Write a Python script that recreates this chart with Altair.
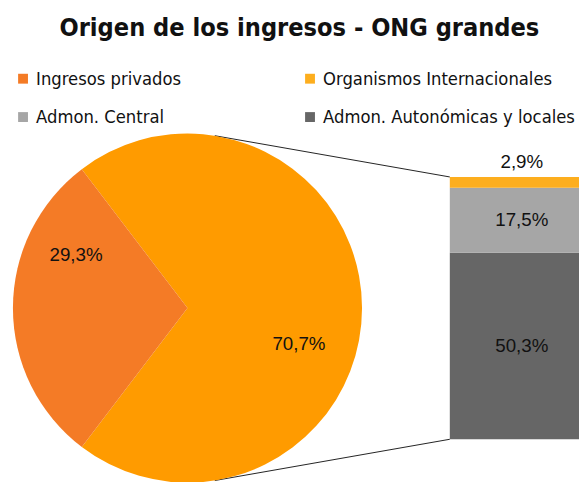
import math
import altair as alt
import pandas as pd

# ---------------- data ----------------
pie_names = ["Resto", "Ingresos privados"]
pie_values = [70.7, 29.3]
pie_order = [1, 2]

bar_names = ["Admon. Autonómicas y locales", "Admon. Central", "Organismos Internacionales"]
bar_values = [50.3, 17.5, 2.9]
bar_order = [1, 2, 3]

# legend is filled column by column
legend_names = ["Ingresos privados", "Admon. Central",
                "Organismos Internacionales", "Admon. Autonómicas y locales"]
legend_colors = ["#F47B26", "#A6A6A6", "#FDAE1E", "#666666"]
pie_colors = ["#FF9B00", "#F47B26"]

title_text = "Origen de los ingresos - ONG grandes"


def fmt(v):
    return f"{v:.1f}".replace(".", ",") + "%"


pie_df = pd.DataFrame({"name": pie_names, "value": pie_values, "ord": pie_order,
                       "label": [fmt(v) for v in pie_values]})
bar_df = pd.DataFrame({"name": bar_names, "value": bar_values, "ord": bar_order,
                       "label": [fmt(v) for v in bar_values]})

# ---------------- layout ----------------
W, H, PAD_TOP = 579, 424, 50
CX, CY, R = 182, 251, 177
BAR_X, BAR_X2 = 448, 600
BAR_BOTTOM, BAR_TOP = 384, 118
BAR_LABEL_X = 521

LABEL_FONT = "Liberation Sans"
LEG_FONT = "DejaVu Sans Condensed, Liberation Sans Narrow, Liberation Sans"

# start angle so that the "Ingresos privados" slice is centred on the left
small = pie_values[1] / sum(pie_values)
start = 1.5 * math.pi + small * math.pi
theta_scale = alt.Scale(range=[start, start + 2 * math.pi])

pie_base = alt.Chart(pie_df).encode(
    theta=alt.Theta("value:Q", stack=True, scale=theta_scale),
    order=alt.Order("ord:Q"),
)

pie = pie_base.mark_arc(radius=R).encode(
    x=alt.value(CX), y=alt.value(CY),
    color=alt.Color("name:N", scale=alt.Scale(domain=pie_names, range=pie_colors), legend=None),
)

pie_lbl_small = pie_base.mark_text(radius=113, dy=-54, font=LABEL_FONT, fontSize=19,
                                   color="#111111").encode(
    x=alt.value(CX), y=alt.value(CY), text="t:N"
).transform_calculate(t="datum.name == 'Ingresos privados' ? datum.label : ''")

pie_lbl_big = pie_base.mark_text(radius=113, dy=36, font=LABEL_FONT, fontSize=19,
                                 color="#111111").encode(
    x=alt.value(CX), y=alt.value(CY), text="t:N"
).transform_calculate(t="datum.name == 'Resto' ? datum.label : ''")

total = sum(bar_values)
yscale = alt.Scale(domain=[0, total], range=[BAR_BOTTOM, BAR_TOP])

bar_base = alt.Chart(bar_df).transform_stack(
    stack="value", groupby=[], as_=["y0", "y1"], sort=[alt.SortField("ord", order="ascending")]
).transform_calculate(mid="(datum.y0 + datum.y1) / 2")

bars = bar_base.mark_rect().encode(
    x=alt.value(BAR_X), x2=alt.value(BAR_X2),
    y=alt.Y("y0:Q", scale=yscale, axis=None), y2="y1:Q",
    color=alt.Color("name:N",
                    scale=alt.Scale(domain=legend_names, range=legend_colors),
                    legend=alt.Legend(orient="none", legendX=6, legendY=9, columns=2,
                                      title=None, symbolType="square", symbolSize=100,
                                      symbolStrokeWidth=0, labelFont=LEG_FONT,
                                      labelFontSize=18.5, labelColor="#111111",
                                      labelOffset=4, columnPadding=121, rowPadding=20,
                                      labelLimit=400, padding=0)),
)

bar_lbl_in = bar_base.mark_text(font=LABEL_FONT, fontSize=19, color="#111111").encode(
    x=alt.value(BAR_LABEL_X), y=alt.Y("mid:Q", scale=yscale), text="label:N"
).transform_filter("datum.value >= 5")

bar_lbl_out = bar_base.mark_text(font=LABEL_FONT, fontSize=19, color="#111111",
                                 baseline="alphabetic", dy=-9).encode(
    x=alt.value(BAR_LABEL_X), y=alt.Y("y1:Q", scale=yscale), text="label:N"
).transform_filter("datum.value < 5")

# connector lines from pie edge to bar corners
a = math.radians(9)
px = CX + R * math.sin(a)
py_top = CY - R * math.cos(a)
py_bot = CY + R * math.cos(a)
one = pd.DataFrame({"k": [0]})
line_top = alt.Chart(one).mark_rule(color="#222222", strokeWidth=1).encode(
    x=alt.value(px), y=alt.value(py_top), x2=alt.value(BAR_X), y2=alt.value(BAR_TOP))
line_bot = alt.Chart(one).mark_rule(color="#222222", strokeWidth=1).encode(
    x=alt.value(px), y=alt.value(py_bot), x2=alt.value(BAR_X), y2=alt.value(BAR_BOTTOM))

chart = alt.layer(
    line_top, line_bot, pie, pie_lbl_small, pie_lbl_big, bars, bar_lbl_in, bar_lbl_out
).resolve_scale(color="independent").properties(
    width=W, height=H,
    padding={"left": 0, "top": PAD_TOP, "right": 0, "bottom": 0},
    autosize=alt.AutoSizeParams(type="none"),
    title=alt.TitleParams(title_text, font="DejaVu Sans Condensed, Liberation Sans",
                          fontSize=25.5, fontWeight="bold", color="#111111",
                          anchor="middle", baseline="alphabetic", offset=-1, dx=6),
).configure_view(stroke=None)

chart.save("out.html", embed_options={"renderer": "svg", "actions": False})
